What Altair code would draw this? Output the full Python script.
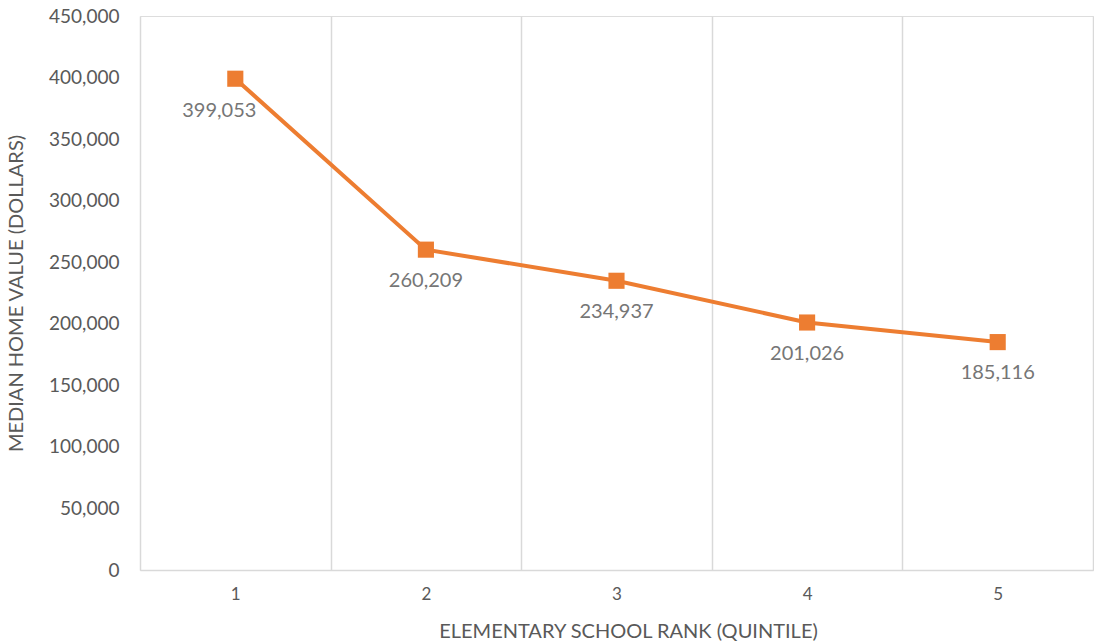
import altair as alt
import pandas as pd

quintiles = ["1", "2", "3", "4", "5"]
values = [399053, 260209, 234937, 201026, 185116]
y_ticks = [0, 50000, 100000, 150000, 200000, 250000, 300000, 350000, 400000, 450000]

df = pd.DataFrame({"rank": quintiles, "value": values})
df["label"] = [f"{v:,}" for v in values]

FONT = "Lato"
GRAY = "#595959"
LABEL_GRAY = "#767676"
ORANGE = "#ED7D31"

x = alt.X("rank:O", sort=quintiles,
          scale=alt.Scale(type="band", paddingInner=0, paddingOuter=0),
          axis=alt.Axis(title="ELEMENTARY SCHOOL RANK (QUINTILE)", labelAngle=0,
                        grid=True, tickBand="extent", ticks=False,
                        gridColor="#d9d9d9", gridWidth=1.5,
                        domainColor="#d9d9d9", domainWidth=1.5,
                        labelFont=FONT, labelFontSize=17, labelColor=GRAY,
                        labelPadding=16,
                        titleFont=FONT, titleFontSize=20, titleColor=GRAY,
                        titleFontWeight="normal", titleX=488, titleY=61,
                        titleBaseline="middle"))
y = alt.Y("value:Q",
          scale=alt.Scale(domain=[0, 450000], nice=False),
          axis=alt.Axis(title="MEDIAN HOME VALUE (DOLLARS)", values=y_ticks,
                        format=",.0f", grid=False, domain=False, ticks=False,
                        labelFont=FONT, labelFontSize=19, labelColor=GRAY,
                        labelPadding=21,
                        titleFont=FONT, titleFontSize=20, titleColor=GRAY,
                        titleFontWeight="normal", titleX=-114, titleY=277))

base = alt.Chart(df).encode(x=x, y=y)

line = base.mark_line(color=ORANGE, strokeWidth=4)
pts = base.mark_point(shape="square", filled=True, size=260, color=ORANGE, opacity=1)
labels_first = base.transform_filter(alt.datum.rank == "1").mark_text(
    font=FONT, fontSize=20, color=LABEL_GRAY, dy=32, dx=-16).encode(text="label:N")
labels_rest = base.transform_filter(alt.datum.rank != "1").mark_text(
    font=FONT, fontSize=20, color=LABEL_GRAY, dy=31).encode(text="label:N")

chart = alt.layer(line, pts, labels_first, labels_rest).properties(
    width=953, height=554,
    autosize=alt.AutoSizeParams(type="none"),
    padding={"left": 140, "top": 16, "right": 1, "bottom": 71},
).configure_view(stroke=None).configure(background="white")

chart.save("out.html", embed_options={"renderer": "svg", "actions": False})
